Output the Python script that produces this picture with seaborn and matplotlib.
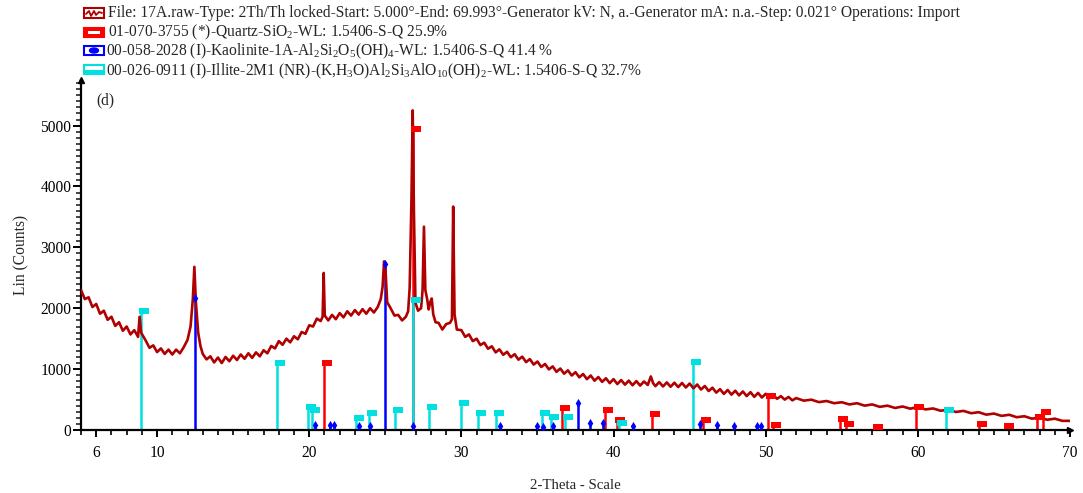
"""
XRD pattern of sample 17A with quartz / kaolinite / illite reference sticks.
"""
import matplotlib
matplotlib.use("Agg")
import matplotlib.pyplot as plt
from matplotlib.path import Path
from matplotlib.patches import Rectangle, Ellipse
from matplotlib.ticker import MultipleLocator, FixedLocator
import pandas as pd
import seaborn as sns

two_theta = [
    5.00, 5.25, 5.50, 5.75, 6.00, 6.25, 6.50, 6.75, 7.00, 7.25, 7.50, 7.75,
    8.00, 8.25, 8.50, 8.75, 8.85, 8.95, 9.25, 9.50, 9.75, 10.00, 10.25, 10.50,
    10.75, 11.00, 11.25, 11.50, 11.75, 12.00, 12.20, 12.35, 12.45, 12.55, 12.70,
    12.85, 13.00, 13.25, 13.50, 13.75, 14.00, 14.25, 14.50, 14.75, 15.00, 15.25,
    15.50, 15.75, 16.00, 16.25, 16.50, 16.75, 17.00, 17.25, 17.50, 17.75, 18.00,
    18.25, 18.50, 18.75, 19.00, 19.25, 19.50, 19.75, 20.00, 20.25, 20.50, 20.75,
    20.88, 20.95, 21.02, 21.25, 21.50, 21.75, 22.00, 22.25, 22.50, 22.75, 23.00,
    23.25, 23.50, 23.75, 24.00, 24.25, 24.50, 24.70, 24.82, 24.92, 25.02, 25.12,
    25.35, 25.60, 25.85, 26.10, 26.35, 26.50, 26.60, 26.72, 26.80, 26.88, 26.98,
    27.15, 27.35, 27.45, 27.54, 27.63, 27.75, 27.85, 27.95, 28.05, 28.15, 28.30,
    28.50, 28.75, 29.00, 29.25, 29.38, 29.46, 29.55, 29.70, 30.00, 30.25, 30.50,
    30.75, 31.00, 31.25, 31.50, 31.75, 32.00, 32.25, 32.50, 32.75, 33.00, 33.25,
    33.50, 33.75, 34.00, 34.25, 34.50, 34.75, 35.00, 35.25, 35.50, 35.75, 36.00,
    36.25, 36.50, 36.75, 37.00, 37.25, 37.50, 37.75, 38.00, 38.25, 38.50, 38.75,
    39.00, 39.25, 39.50, 39.75, 40.00, 40.25, 40.50, 40.75, 41.00, 41.25, 41.50,
    41.75, 42.00, 42.25, 42.45, 42.60, 42.75, 43.00, 43.25, 43.50, 43.75, 44.00,
    44.25, 44.50, 44.75, 45.00, 45.25, 45.50, 45.75, 46.00, 46.25, 46.50, 46.75,
    47.00, 47.25, 47.50, 47.75, 48.00, 48.25, 48.50, 48.75, 49.00, 49.25, 49.50,
    49.75, 50.00, 50.25, 50.50, 50.75, 51.00, 51.25, 51.50, 51.75, 52.00, 52.50,
    53.00, 53.50, 54.00, 54.50, 55.00, 55.50, 56.00, 56.50, 57.00, 57.50, 58.00,
    58.50, 59.00, 59.50, 60.00, 60.50, 61.00, 61.50, 62.00, 62.50, 63.00, 63.50,
    64.00, 64.50, 65.00, 65.50, 66.00, 66.50, 67.00, 67.50, 68.00, 68.50, 69.00,
    69.50, 69.99,
]
counts = [
    2300, 2150, 2180, 2020, 2070, 1910, 1960, 1810, 1860, 1710, 1770, 1630,
    1700, 1570, 1640, 1530, 1860, 1600, 1470, 1350, 1390, 1280, 1340, 1250,
    1320, 1240, 1320, 1260, 1360, 1480, 1700, 2150, 2680, 2100, 1600,
    1380, 1250, 1160, 1210, 1110, 1190, 1100, 1200, 1130, 1220, 1150,
    1240, 1170, 1260, 1185, 1275, 1210, 1310, 1260, 1380, 1340, 1460,
    1400, 1500, 1440, 1540, 1490, 1610, 1580, 1720, 1700, 1830, 1790,
    1860, 2580, 1880, 1800, 1890, 1820, 1920, 1850, 1950, 1880, 1970,
    1895, 1985, 1910, 2000, 1930, 2020, 2150, 2350, 2770, 2600, 2100,
    2000, 1880, 1890, 1800, 1860, 1950, 2330, 3800, 5250, 3600, 2090,
    1960, 2000, 2300, 3340, 2300, 2150, 1980, 2100, 2160, 1900, 1770,
    1760, 1650, 1740, 1760, 1820, 3670, 1900, 1650, 1640, 1530, 1570,
    1460, 1500, 1395, 1435, 1335, 1375, 1275, 1325, 1235, 1285, 1195,
    1245, 1155, 1205, 1115, 1165, 1075, 1125, 1035, 1085, 995, 1045,
    955, 1010, 925, 980, 895, 950, 865, 920, 835, 895, 810,
    870, 790, 850, 770, 835, 755, 820, 745, 810, 735, 803,
    730, 797, 740, 880, 770, 720, 787, 715, 782, 710, 777,
    705, 772, 698, 763, 685, 747, 665, 723, 640, 695, 613,
    671, 593, 657, 581, 645, 569, 633, 557, 621, 545, 609,
    533, 595, 527, 570, 513, 556, 499, 543, 487, 524, 482,
    498, 458, 476, 440, 456, 420, 440, 400, 420, 380, 400,
    362, 386, 350, 378, 338, 354, 316, 334, 296, 314, 276,
    292, 252, 270, 232, 250, 210, 226, 186, 206, 168, 186,
    150, 150,
]

# 01-070-3755 Quartz
quartz_pos = [20.95, 26.80, 36.60, 39.45, 40.25, 42.50, 45.85, 50.14, 50.50,
              54.90, 55.30, 57.20, 59.90, 64.00, 65.80, 67.80, 68.20]
quartz_int = [1100, 4950, 360, 330, 165, 265, 165, 560, 80,
              180, 100, 50, 380, 100, 70, 215, 290]

# 00-058-2028 Kaolinite-1A
kaolinite_pos = [12.47, 20.40, 21.36, 21.60, 23.27, 24.00, 24.95, 26.80, 32.57,
                 34.94, 35.36, 36.00, 37.66, 38.44, 39.28, 41.25, 45.67, 46.80,
                 47.90, 49.40, 49.70]
kaolinite_int = [2170, 90, 80, 80, 60, 60, 2730, 60, 60,
                 60, 50, 70, 445, 110, 110, 60, 100, 80,
                 60, 60, 60]

# 00-026-0911 Illite-2M1
illite_pos = [8.92, 17.88, 19.90, 20.15, 23.05, 23.90, 25.65, 26.80, 27.87,
              29.98, 31.08, 32.25, 35.27, 35.92, 36.80, 40.35, 45.23, 61.88]
illite_int = [1950, 1100, 385, 330, 205, 285, 330, 2140, 385,
              440, 285, 285, 285, 215, 210, 120, 1110, 330]

x_ticks = [6, 10, 20, 30, 40, 50, 60, 70]
y_ticks = [0, 1000, 2000, 3000, 4000, 5000]

legend_labels = [
    "File: 17A.raw-Type: 2Th/Th locked-Start: 5.000°-End: 69.993°-Generator kV: N, "
    "a.-Generator mA: n.a.-Step: 0.021° Operations: Import",
    "01-070-3755 (*)-Quartz-SiO$_2$-WL: 1.5406-S-Q 25.9%",
    "00-058-2028 (I)-Kaolinite-1A-Al$_2$Si$_2$O$_5$(OH)$_4$-WL: 1.5406-S-Q 41.4 %",
    "00-026-0911 (I)-Illite-2M1 (NR)-(K,H$_3$O)Al$_2$Si$_3$AlO$_{10}$(OH)$_2$"
    "-WL: 1.5406-S-Q 32.7%",
]

C_PATTERN = "#b00000"
C_QUARTZ = "#ff0000"
C_KAOL = "#0000ff"
C_ILL = "#00e0e0"

sns.set_theme(style="white")
plt.rcParams["font.family"] = ["Liberation Serif", "DejaVu Serif"]
plt.rcParams["mathtext.fontset"] = "custom"
plt.rcParams["mathtext.rm"] = "Liberation Serif"
plt.rcParams["mathtext.it"] = "Liberation Serif:italic"
FS = 11.2

pattern = pd.DataFrame({"two_theta": two_theta, "counts": counts})

fig = plt.figure(figsize=(10.83, 4.93), dpi=100)
ax = fig.add_axes([0.0748, 0.1278, 0.9132, 0.710])

# flag-shaped marker: rectangle sitting to the right of the stick
flag = Path([(-0.3, -0.35), (1.0, -0.35), (1.0, 0.35), (-0.3, 0.35), (-0.3, -0.35)],
            [Path.MOVETO, Path.LINETO, Path.LINETO, Path.LINETO, Path.CLOSEPOLY])

phases = [
    (quartz_pos, quartz_int, C_QUARTZ, flag, 130),
    (illite_pos, illite_int, C_ILL, flag, 130),
    (kaolinite_pos, kaolinite_int, C_KAOL, "d", 22),
]
for pos, inten, col, mk, sz in phases:
    ax.vlines(pos, 0, inten, colors=col, linewidth=1.8, zorder=2)

sns.lineplot(data=pattern, x="two_theta", y="counts", ax=ax, color=C_PATTERN,
             linewidth=1.9, estimator=None, sort=False, zorder=3)

for pos, inten, col, mk, sz in phases:
    ax.scatter(pos, inten, marker=mk, s=sz, color=col, linewidths=0, zorder=4)

ax.set_xlim(5, 70)
ax.set_ylim(0, 5750)
ax.xaxis.set_major_locator(FixedLocator(x_ticks))
ax.xaxis.set_minor_locator(MultipleLocator(1))
ax.yaxis.set_major_locator(FixedLocator(y_ticks))
ax.yaxis.set_minor_locator(MultipleLocator(100))
ax.tick_params(axis="x", which="major", direction="out", length=5, width=1.4,
               pad=6, labelsize=FS, bottom=True, colors="black")
ax.tick_params(axis="x", which="minor", direction="out", length=3.5, width=1.4,
               bottom=True)
ax.tick_params(axis="y", which="major", direction="out", length=6, width=1.4,
               pad=1, labelsize=FS, left=True, colors="black")
ax.tick_params(axis="y", which="minor", direction="out", length=3.5, width=1.2,
               left=True)

for side in ["top", "right"]:
    ax.spines[side].set_visible(False)
for side in ["left", "bottom"]:
    ax.spines[side].set_color("black")
    ax.spines[side].set_linewidth(1.6)
ax.plot([1], [0], ">", color="black", ms=5, transform=ax.transAxes, clip_on=False)
ax.plot([0], [1], "^", color="black", ms=5, transform=ax.transAxes, clip_on=False)

ax.set_xlabel("2-Theta - Scale", fontsize=FS - 0.5, labelpad=13)
ax.set_ylabel("Lin (Counts)", fontsize=FS, labelpad=8)
ax.text(6.0, 5420, "(d)", fontsize=FS, ha="left", va="center")
ax.grid(False)

# legend block above the axes
W, H = 1083.0, 493.0
rows_y = [13, 32, 51, 71]
text_x = [108, 108, 106, 106]
for lab, ty, tx in zip(legend_labels, rows_y, text_x):
    fig.text(tx / W, 1 - ty / H, lab, fontsize=FS, ha="left", va="center")

def box(x0, y0, w, h, **kw):
    r = Rectangle((x0 / W, 1 - (y0 + h) / H), w / W, h / H,
                  transform=fig.transFigure, **kw)
    fig.add_artist(r)

box(84, 8, 20, 10, facecolor="white", edgecolor=C_PATTERN, linewidth=1.5)
zig_x = [86, 89, 91, 94, 96, 99, 102]
zig_y = [14, 11, 16, 11, 15, 12, 13]
fig.add_artist(plt.Line2D([v / W for v in zig_x], [1 - v / H for v in zig_y],
                          transform=fig.transFigure, color=C_PATTERN, lw=1.3))
box(84, 28, 20, 9, facecolor=C_QUARTZ, edgecolor=C_QUARTZ, linewidth=1.5)
box(88, 31.5, 12, 2, facecolor="white", edgecolor="none")
box(84, 46, 20, 9, facecolor="white", edgecolor=C_KAOL, linewidth=1.5)
fig.add_artist(Ellipse((94 / W, 1 - 50.5 / H), 9 / W, 5 / H,
                       transform=fig.transFigure, color=C_KAOL))
box(84, 65, 20, 9, facecolor="white", edgecolor=C_ILL, linewidth=1.5)
box(84, 70.5, 20, 3.5, facecolor=C_ILL, edgecolor="none")

fig.savefig("out.png", dpi=100)
plt.close(fig)
